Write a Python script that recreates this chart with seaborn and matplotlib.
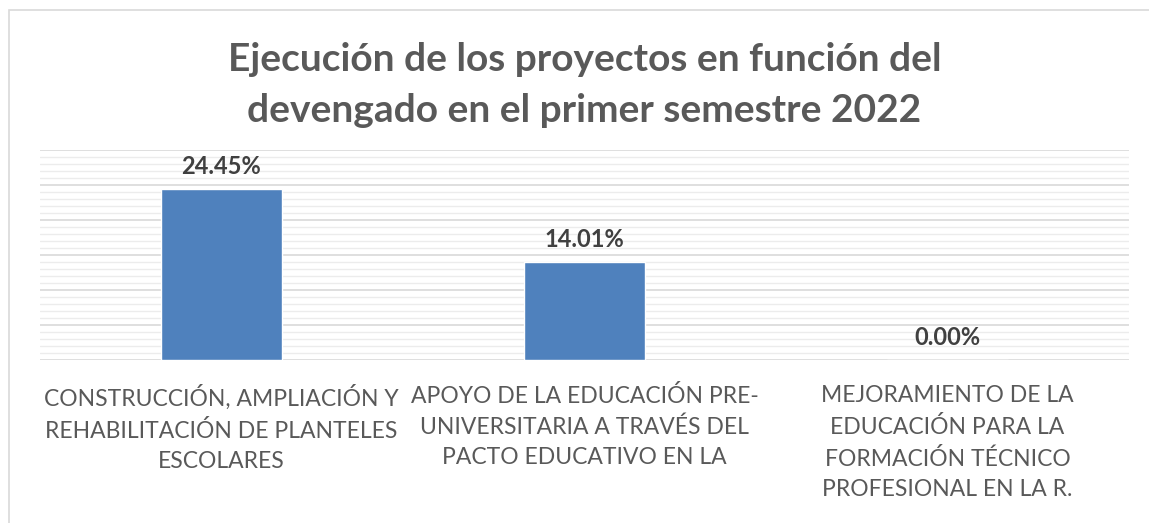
import numpy as np
import seaborn as sns
from matplotlib import pyplot as plt
from matplotlib.patches import Rectangle
from matplotlib.ticker import MultipleLocator

proyectos = [
    "CONSTRUCCIÓN, AMPLIACIÓN Y\nREHABILITACIÓN DE PLANTELES\nESCOLARES",
    "APOYO DE LA EDUCACIÓN PRE-\nUNIVERSITARIA A TRAVÉS DEL\nPACTO EDUCATIVO EN LA",
    "MEJORAMIENTO DE LA\nEDUCACIÓN PARA LA\nFORMACIÓN TÉCNICO\nPROFESIONAL EN LA R.",
]
ejecucion = [24.45, 14.01, 0.00]

sns.set_style("white")
plt.rcParams["font.family"] = ["Lato", "DejaVu Sans"]

fig = plt.figure(figsize=(11.49, 5.23), dpi=100)
ax = fig.add_axes([0.0348, 0.3117, 0.9478, 0.4015])

# marco del gráfico
fig.patches.append(Rectangle((9 / 1149, -0.1), 1.2, 1 - 10 / 523 + 0.1,
                             transform=fig.transFigure, fill=False,
                             edgecolor="#d9d9d9", linewidth=1.2))

sns.barplot(x=proyectos, y=ejecucion, color="#4f81bd", width=0.333,
            saturation=1, ax=ax)

ax.set_ylim(0, 30)
ax.yaxis.set_major_locator(MultipleLocator(5))
ax.yaxis.set_minor_locator(MultipleLocator(1))
ax.grid(axis="y", which="major", color="#d9d9d9", linewidth=1.2)
ax.grid(axis="y", which="minor", color="#ececec", linewidth=1.0)
ax.set_axisbelow(True)
ax.set_yticklabels([])
ax.tick_params(axis="y", which="both", length=0)
ax.tick_params(axis="x", length=0, pad=18, labelsize=16.5, labelcolor="#595959")
for s in ax.spines.values():
    s.set_visible(False)

for c in ax.containers:
    ax.bar_label(c, labels=[f"{v:.2f}%" for v in ejecucion], padding=8,
                 fontsize=17, fontweight="bold", color="#404040")

for t in ax.get_xticklabels():
    t.set_linespacing(1.55)

ax.set_title("Ejecución de los proyectos en función del\ndevengado en el primer semestre 2022",
             fontsize=28, fontweight="bold", color="#595959", pad=20,
             linespacing=1.55)

plt.savefig("out.png", dpi=100)
